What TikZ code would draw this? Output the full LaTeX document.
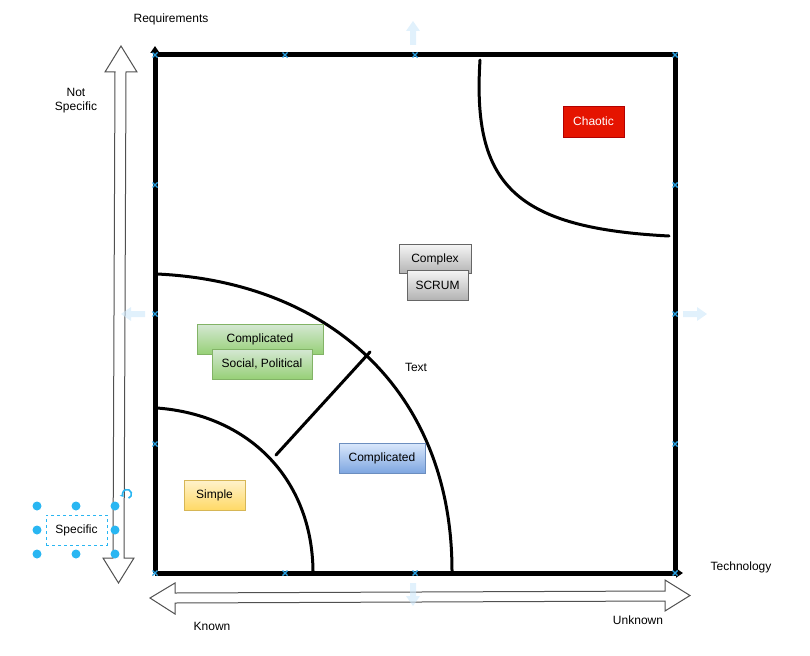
\documentclass[tikz,border=0pt]{standalone}
\usepackage{fontspec}
\setmainfont{Liberation Sans}
\usetikzlibrary{arrows.meta}

\definecolor{selblue}{RGB}{41,182,242}
\definecolor{markblue}{RGB}{41,161,226}
\definecolor{hintblue}{RGB}{205,232,250}
\definecolor{arrowgray}{RGB}{80,80,80}

\begin{document}
\begin{tikzpicture}[x=1pt,y=-1pt,
  font=\fontsize{12}{14}\selectfont,
  every node/.style={inner sep=0pt},
  quadbox/.style={draw, line width=0.8pt, minimum height=30pt},
  chaoticbox/.style={quadbox, fill={rgb,255:red,229;green,20;blue,0}, draw={rgb,255:red,178;green,0;blue,0}, text=white},
  graybox/.style={quadbox, top color={rgb,255:red,245;green,245;blue,245}, bottom color={rgb,255:red,179;green,179;blue,179}, draw={rgb,255:red,102;green,102;blue,102}},
  greenbox/.style={quadbox, top color={rgb,255:red,213;green,232;blue,212}, bottom color={rgb,255:red,151;green,208;blue,119}, draw={rgb,255:red,130;green,179;blue,102}},
  bluebox/.style={quadbox, top color={rgb,255:red,218;green,232;blue,252}, bottom color={rgb,255:red,126;green,166;blue,224}, draw={rgb,255:red,108;green,142;blue,191}},
  yellowbox/.style={quadbox, top color={rgb,255:red,255;green,242;blue,204}, bottom color={rgb,255:red,255;green,217;blue,102}, draw={rgb,255:red,214;green,182;blue,86}},
  axis/.style={line width=5pt},
  border/.style={line width=3pt, line cap=round},
  bigarrow/.style={draw=arrowgray, line width=1pt, fill=white, line join=miter},
  hint/.style={fill=hintblue, fill opacity=0.6, draw=none},
  marker/.style={draw=markblue, line width=1.4pt},
  handle/.style={fill=selblue, draw=none},
]
\useasboundingbox (0,0) rectangle (810,655);

% corners of the quadrant frame
\coordinate (bl) at (155,573);
\coordinate (tl) at (155,55);
\coordinate (tr) at (675,55);
\coordinate (br) at (675,573);
\coordinate (ytip) at (155,46);
\coordinate (xtip) at (683,573);

% frame and axes
\draw[axis] (tl) -- (tr) -- (br);
\draw[axis, -{Triangle[width=9pt,length=7pt]}] (bl) -- (ytip);
\draw[axis, -{Triangle[width=9pt,length=7pt]}] (bl) -- (xtip);

% small connection markers along the frame
\foreach \p in {(155,55),(285,55),(415,55),(675,55),
                (155,185),(155,314),(155,444),(155,573),
                (675,185),(675,314),(675,444),(675,573),
                (285,573),(415,573)}{
  \draw[marker] \p ++(-2.5,-2.5) -- ++(5,5) \p ++(-2.5,2.5) -- ++(5,-5);
}

% domain boundaries
\coordinate (c1s) at (480,60);
\coordinate (c1e) at (669,236);
\coordinate (c2s) at (157,274);
\coordinate (c2e) at (452,571);
\coordinate (c3s) at (157,408);
\coordinate (c3e) at (313,571);
\coordinate (j1) at (276,455);
\coordinate (j2) at (370,352);
\draw[border] (c1s) .. controls (472,185) and (515,228) .. (c1e);
\draw[border] (c2s) .. controls (330,282) and (452,392) .. (c2e);
\draw[border] (c3s) .. controls (250,415) and (312,480) .. (c3e);
\draw[border] (j1) -- (j2);

% domain labels
\node[chaoticbox, minimum width=61pt, minimum height=31pt] (chaotic) at (593.5,121.5) {Chaotic};
\node[graybox, minimum width=72pt, minimum height=29pt] (complex) at (435,259) {Complex};
\node[graybox, minimum width=61pt, minimum height=30pt] (scrum) at (437.5,285) {SCRUM};
\node[greenbox, minimum width=126pt, minimum height=30pt] (complicatedA) at (260,339) {Complicated};
\node[greenbox, minimum width=100pt, minimum height=30pt] (social) at (262,364) {Social, Political};
\node[bluebox, minimum width=86pt, minimum height=30pt] (complicatedB) at (382,458) {Complicated};
\node[yellowbox, minimum width=61pt, minimum height=30pt] (simple) at (214.5,495) {Simple};
\node (textlbl) at (416,367) {Text};

% axis captions
\node (req) at (171,19) {Requirements};
\node (tech) at (741,567) {Technology};
\node (known) at (212,626) {Known};
\node (unknown) at (638,620) {Unknown};
\node[align=center] (notspec) at (76,101) {Not\\Specific};

% double-headed scale arrows
\draw[bigarrow] (121,46) -- (137,72) -- (126,72) -- (124,558) -- (134,558) -- (118.5,583)
  -- (103,558) -- (113,558) -- (115,72) -- (105,72) -- cycle;
\draw[bigarrow] (150,598) -- (175,583) -- (175,593) -- (665,591) -- (665,580) -- (690,595.5)
  -- (665,611) -- (665,601) -- (175,603) -- (175,614) -- cycle;

% hover hint arrows
\fill[hint] (413,21) -- (420,31) -- (416,31) -- (416,45) -- (410,45) -- (410,31) -- (406,31) -- cycle;
\fill[hint] (413,606) -- (420,596) -- (416,596) -- (416,583) -- (410,583) -- (410,596) -- (406,596) -- cycle;
\fill[hint] (121,314) -- (131,307) -- (131,311) -- (145,311) -- (145,317) -- (131,317) -- (131,321) -- cycle;
\fill[hint] (707,314) -- (697,307) -- (697,311) -- (683,311) -- (683,317) -- (697,317) -- (697,321) -- cycle;

% selected label with its handles
\node[draw=selblue, dashed, line width=0.8pt, minimum width=61pt, minimum height=30pt] (spec) at (76.5,530) {Specific};
\foreach \hx in {37,76,115}{
  \foreach \hy in {506,530,554}{
    \ifnum\hx=76 \ifnum\hy=530 \else \fill[handle] (\hx,\hy) circle (4.5pt); \fi
    \else \fill[handle] (\hx,\hy) circle (4.5pt); \fi
  }
}
\draw[selblue, line width=1.6pt, -{Stealth[length=3.5pt,width=4.5pt]}] (127,494) ++(70:4.5) arc[start angle=70, end angle=-220, radius=4.5];
\end{tikzpicture}
\end{document}
